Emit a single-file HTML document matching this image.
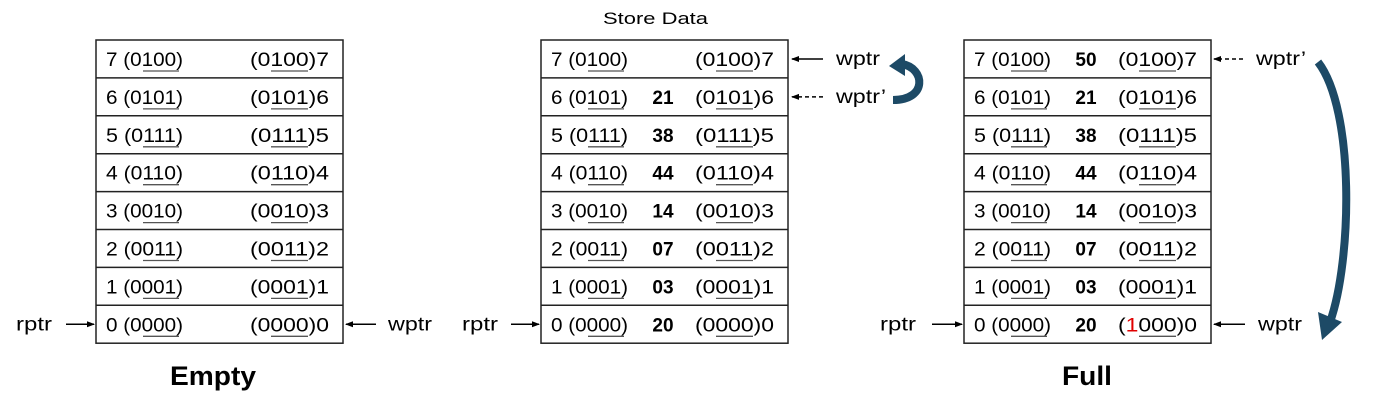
<!DOCTYPE html>
<html><head><meta charset="utf-8"><style>
body{margin:0;background:#fff;}
svg{display:block;font-family:"Liberation Sans",sans-serif;}
</style></head><body>
<svg id="s" width="1387" height="409" viewBox="0 0 1387 409">
<defs>
<marker id="ah" markerWidth="8" markerHeight="8" refX="7" refY="4" orient="auto" markerUnits="userSpaceOnUse"><path d="M0,1 L8,4 L0,7 Z" fill="#000"/></marker>
</defs>
<text x="603" y="24" font-size="17" textLength="105" lengthAdjust="spacingAndGlyphs">Store Data</text>
<text x="170" y="385" font-size="27" font-weight="bold" textLength="86" lengthAdjust="spacingAndGlyphs">Empty</text>
<text x="1062" y="385" font-size="27" font-weight="bold" textLength="50" lengthAdjust="spacingAndGlyphs">Full</text>
<g id="g"></g>
<path d="M893,100 C928,100 925,68 902,64" fill="none" stroke="#1d4a66" stroke-width="8"/>
<path d="M889,66 L905,54 L905,76 Z" fill="#1d4a66"/>
<path d="M1318,62 C1355,110 1352,260 1330,322" fill="none" stroke="#1d4a66" stroke-width="8"/>
<path d="M1322,340 L1318,312 L1342,322 Z" fill="#1d4a66"/>
</svg>
<script>
const ns='http://www.w3.org/2000/svg';
const g=document.getElementById('g');
const bins=['0000','0001','0011','0010','0110','0111','0101','0100'];
const tables=[{x:96,vals:null,full:false},{x:541,vals:['20','03','07','14','44','38','21',''],full:false},{x:964,vals:['20','03','07','14','44','38','21','50'],full:true}];
const top0=40,rowH=37.9,W=247;
function el(t,a,p){const e=document.createElementNS(ns,t);for(const k in a)e.setAttribute(k,a[k]);(p||g).appendChild(e);return e;}
tables.forEach((tb,ti)=>{
 const r=el('rect',{x:tb.x,y:top0,width:W,height:rowH*8,fill:'none',stroke:'#222','stroke-width':1.5});
 
 
 for(let i=0;i<8;i++){
  const idx=7-i, y=top0+i*rowH;
  if(i>0){const l=el('line',{x1:tb.x,x2:tb.x+W,y1:y,y2:y,stroke:'#222','stroke-width':1.5});
   
   }
  const ty=y+26, b=bins[idx];
  const t1=el('text',{x:tb.x+10,y:ty,'font-size':19,textLength:77,lengthAdjust:'spacingAndGlyphs'});
  
  
  t1.textContent=idx+' ('+b+')';
  const u1=el('line',{x1:tb.x+47,x2:tb.x+83,y1:y+31,y2:y+31,stroke:'#555','stroke-width':1.3});
  
  
  const t2=el('text',{x:tb.x+W-93,y:ty,'font-size':19,textLength:79,lengthAdjust:'spacingAndGlyphs'});
  
  
  const first=(tb.full&&idx==0)?'<tspan fill="#e00000">1</tspan>':b[0];
  t2.innerHTML='('+first+b.slice(1)+')'+idx;
  const u2=el('line',{x1:tb.x+175,x2:tb.x+212,y1:y+31,y2:y+31,stroke:'#555','stroke-width':1.3});
  
  
  if(tb.vals&&tb.vals[idx]){const t3=el('text',{x:tb.x+122,y:ty,'font-size':19,'font-weight':'bold','text-anchor':'middle'});
   
   
   t3.textContent=tb.vals[idx];}
 }
});
function ptr(label,x1,x2,y,tx,dashed,len){
 const l=el('line',{x1:x1,x2:x2,y1:y,y2:y,stroke:'#000','stroke-width':1.5,'marker-end':'url(#ah)'});
 if(dashed)l.setAttribute('stroke-dasharray','4,3');
 
 
 const t=el('text',{x:tx,y:y+6,'font-size':19,textLength:len,lengthAdjust:'spacingAndGlyphs'});
 
 
 t.textContent=label;
}
const yr0=top0+7*rowH+rowH/2, yr7=top0+rowH/2, yr6=top0+1.5*rowH;
ptr('rptr',66,94,yr0,16,false,36);
ptr('wptr',376,346,yr0,388,false,44);
ptr('rptr',511,539,yr0,462,false,36);
ptr('wptr',823,792,yr7,836,false,44);
ptr('wptr’',823,792,yr6,836,true,50);
ptr('rptr',932,962,yr0,880,false,36);
ptr('wptr',1245,1214,yr0,1258,false,44);
ptr('wptr’',1243,1214,yr7,1256,true,50);
</script>
</body></html>
